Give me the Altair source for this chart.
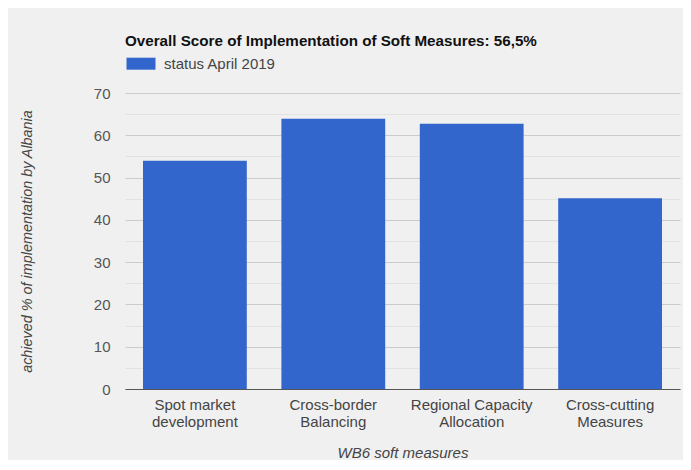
import altair as alt
import pandas as pd

categories = ["Spot market development", "Cross-border Balancing",
              "Regional Capacity Allocation", "Cross-cutting Measures"]
values = [54.0, 63.9, 62.7, 45.1]
series = ["status April 2019"] * 4
y_ticks = [0, 5, 10, 15, 20, 25, 30, 35, 40, 45, 50, 55, 60, 65, 70]

chart_title = "Overall Score of Implementation of Soft Measures: 56,5%"
x_title = "WB6 soft measures"
y_title = "achieved % of implementation by Albania"

df = pd.DataFrame({"measure": categories, "value": values, "series": series})

FONT = "Liberation Sans"
FS = 15

bars = alt.Chart(df).mark_bar(color="#3366cc").encode(
    x=alt.X(
        "measure:N",
        sort=categories,
        scale=alt.Scale(paddingInner=0.25, paddingOuter=0.13),
        axis=alt.Axis(
            title=x_title,
            labelAngle=0,
            labelExpr="[substring(datum.label, 0, lastindexof(datum.label, ' ')), substring(datum.label, lastindexof(datum.label, ' ') + 1)]",
            labelLineHeight=17,
            labelPadding=8,
            labelFont=FONT,
            labelFontSize=FS,
            labelColor="#444444",
            ticks=False,
            tickSize=0,
            domainColor="#555555",
            domainWidth=1.2,
            titleFont=FONT,
            titleFontSize=FS,
            titleFontStyle="italic",
            titleFontWeight="normal",
            titleColor="#444444",
            titleY=63,
            titleBaseline="middle",
            zindex=1,
        ),
    ),
    y=alt.Y(
        "value:Q",
        scale=alt.Scale(domain=[0, 70], nice=False),
        axis=alt.Axis(
            title=y_title,
            values=y_ticks,
            labelExpr="datum.value % 10 === 0 ? datum.label : ''",
            gridColor={"condition": {"test": "datum.value % 10 === 0", "value": "#cccccc"},
                       "value": "#e2e2e2"},
            domain=False,
            ticks=False,
            tickSize=0,
            labelPadding=15,
            labelFont=FONT,
            labelFontSize=FS,
            labelColor="#555555",
            titleFont=FONT,
            titleFontSize=14.4,
            titleFontStyle="italic",
            titleFontWeight="normal",
            titleColor="#444444",
            titleX=-98,
            titleY=148,
            titleBaseline="middle",
        ),
    ),
    color=alt.Color(
        "series:N",
        scale=alt.Scale(range=["#3366cc"]),
        legend=alt.Legend(
            title=chart_title,
            orient="none",
            legendX=0,
            legendY=-59,
            padding=0,
            titleFont=FONT,
            titleFontSize=15.2,
            titleFontWeight="bold",
            titleColor="#111111",
            titleLimit=1000,
            titlePadding=7,
            symbolType="M-1,-1L3.833,-1L3.833,1L-1,1Z",
            symbolSize=144,
            symbolStrokeWidth=0,
            symbolOpacity=1,
            labelFont=FONT,
            labelFontSize=FS,
            labelColor="#444444",
            labelOffset=24,
        ),
    ),
).properties(
    width=555,
    height=296,
    background="#f0f0f0",
    padding={"left": 117, "top": 85, "right": 3, "bottom": 71},
    autosize=alt.AutoSizeParams(type="none"),
).configure_view(stroke=None)

chart = bars
chart.save("out.html", embed_options={"renderer": "svg", "actions": False})
